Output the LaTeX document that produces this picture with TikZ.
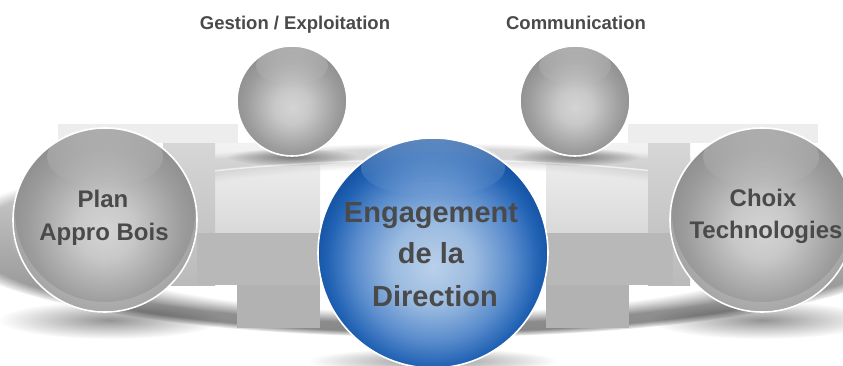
\documentclass[tikz,border=0pt]{standalone}
\usepackage{fontspec}
\setmainfont{Liberation Sans}
\usetikzlibrary{fadings}
\definecolor{txtgray}{HTML}{4A4A4A}
\definecolor{gA}{HTML}{D4D4D4}
\definecolor{gB}{HTML}{C8C8C8}
\definecolor{gC}{HTML}{B0B0B0}
\definecolor{gD}{HTML}{9C9C9C}
\definecolor{gE}{HTML}{909090}
\definecolor{bA}{HTML}{BAD0EA}
\definecolor{bB}{HTML}{9BBBE0}
\definecolor{bC}{HTML}{5B8DCD}
\definecolor{bD}{HTML}{2162B4}
\definecolor{bE}{HTML}{0C4796}
\pgfdeclareradialshading{graysph}{\pgfpoint{0bp}{-3bp}}{color(0bp)=(gA); color(8bp)=(gB); color(15bp)=(gC); color(21bp)=(gD); color(26bp)=(gE); color(50bp)=(gE)}
\pgfdeclareradialshading{bluesph}{\pgfpoint{0bp}{-3bp}}{color(0bp)=(bA); color(9bp)=(bB); color(17bp)=(bC); color(23bp)=(bD); color(28bp)=(bE); color(50bp)=(bE)}
\pgfdeclareradialshading{ringprof}{\pgfpoint{0bp}{0bp}}{color(0bp)=(black); color(18.5bp)=(black); color(21.5bp)=(white); color(23.5bp)=(white); color(25bp)=(black); color(50bp)=(black)}
\pgfdeclarefading{ringfade}{\pgfuseshading{ringprof}}
\tikzfading[name=capfade, top color=transparent!10, bottom color=transparent!100]
\tikzfading[name=blobfade, inner color=transparent!0, outer color=transparent!100]
\begin{document}
\begin{tikzpicture}[x=1pt,y=1pt,
  lightrect/.style={fill=black!7},
  grayrect/.style={fill=black!28},
  sphbase/.style={circle, inner sep=0pt, draw=white, line width=1.6pt},
  gsphere/.style={sphbase, shade, shading=graysph},
  bsphere/.style={sphbase, shade, shading=bluesph},
  gcap/.style={fill=white, fill opacity=.30, path fading=capfade},
  bcap/.style={fill=white, fill opacity=.35, path fading=capfade},
  shadowblob/.style={fill=black, fill opacity=.42, path fading=blobfade},
  bigtxt/.style={text=txtgray, font=\bfseries\fontsize{24}{28}\selectfont, anchor=base, inner sep=0pt},
  midtxt/.style={text=txtgray, font=\bfseries\fontsize{29}{33}\selectfont, anchor=base, inner sep=0pt},
  toptxt/.style={text=txtgray, font=\bfseries\fontsize{18.5}{22}\selectfont, anchor=base, inner sep=0pt}
]
\useasboundingbox (0,0) rectangle (843,365);
\fill[white] (0,0) rectangle (843,365);
% light background patches
\fill[lightrect] (58,222) rectangle (238,241);
\fill[lightrect] (628,222) rectangle (818,241);
\shade[top color=black!5, bottom color=black!15] (215,132) rectangle (320,222);
\shade[top color=black!5, bottom color=black!15] (546,132) rectangle (648,222);
% ring
\shade[top color=black!14, bottom color=black!48, path fading=ringfade]
  (433,125) ellipse[x radius=490, y radius=97];
\draw[white, line width=1.5pt, opacity=.6]
  plot[domain=55:125, samples=40] ({433+435*cos(\x)},{125+80*sin(\x)});
% gray patches
\shade[top color=black!16, bottom color=black!27] (163,80) rectangle (215,222);
\shade[top color=black!16, bottom color=black!27] (648,80) rectangle (690,222);
\fill[grayrect] (197,80) rectangle (320,132);
\fill[grayrect] (546,80) rectangle (673,132);
\fill[black!30] (237,37) rectangle (320,80);
\fill[black!30] (546,37) rectangle (629,80);
% shadows
\fill[shadowblob] (110,45) ellipse[x radius=112, y radius=19];
\fill[shadowblob] (762,45) ellipse[x radius=112, y radius=19];
\fill[shadowblob] (433,4) ellipse[x radius=125, y radius=13];
\fill[shadowblob] (292,208) ellipse[x radius=65, y radius=9];
\fill[shadowblob] (575,208) ellipse[x radius=65, y radius=9];
% small spheres
\node[gsphere, minimum size=110] (sL) at (292,264) {};
\fill[gcap] (292,299) ellipse[x radius=36, y radius=19];
\node[gsphere, minimum size=110] (sR) at (575,264) {};
\fill[gcap] (575,299) ellipse[x radius=36, y radius=19];
% big gray spheres
\node[gsphere, minimum size=184] (bL) at (105,145) {};
\begin{scope}
  \clip (105,145) circle[radius=91];
  \fill[white, fill opacity=.16, even odd rule] (105,145) circle[radius=91] (105,153) circle[radius=90];
\end{scope}
\fill[gcap] (105,208) ellipse[x radius=58, y radius=30];
\node[gsphere, minimum size=184] (bR) at (762,145) {};
\begin{scope}
  \clip (762,145) circle[radius=91];
  \fill[white, fill opacity=.16, even odd rule] (762,145) circle[radius=91] (762,153) circle[radius=90];
\end{scope}
\fill[gcap] (761,208) ellipse[x radius=58, y radius=30];
% blue sphere
\node[bsphere, minimum size=230] (bC) at (433,112) {};
\fill[bcap] (433,197) ellipse[x radius=72, y radius=29];
% texts
\node[toptxt] (tG) at (295,335) {Gestion / Exploitation};
\node[toptxt] (tCo) at (576,335) {Communication};
\node[bigtxt] (tP1) at (103,158) {Plan};
\node[bigtxt] (tP2) at (104,125) {Appro Bois};
\node[bigtxt] (tC1) at (763,159) {Choix};
\node[bigtxt] (tC2) at (766,127) {Technologies};
\node[midtxt] (tE1) at (431,143) {Engagement};
\node[midtxt] (tE2) at (431,102) {de la};
\node[midtxt] (tE3) at (435,59) {Direction};
\end{tikzpicture}
\end{document}
